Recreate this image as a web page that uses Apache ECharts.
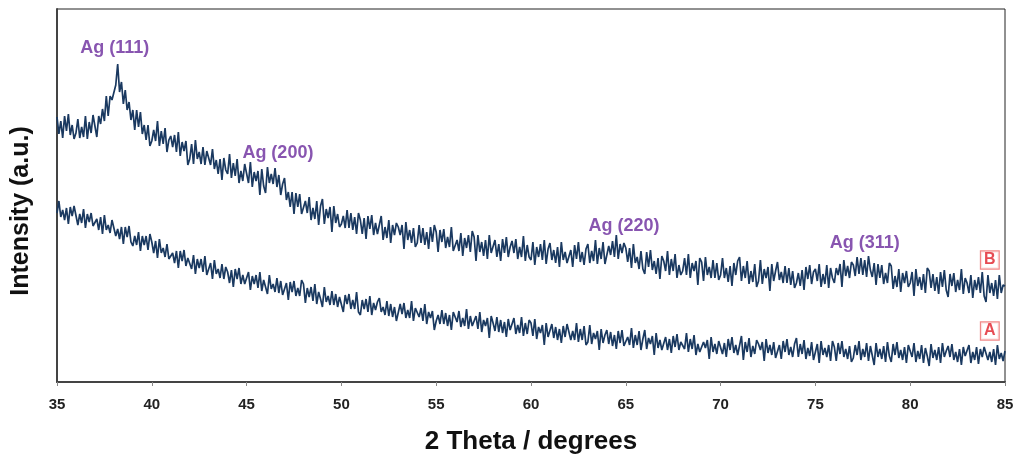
<!DOCTYPE html>
<html>
<head>
<meta charset="utf-8">
<script src="https://cdn.jsdelivr.net/npm/echarts@6/dist/echarts.min.js"></script>
<style>
  html, body { margin: 0; padding: 0; background: #fff; }
  #chart { width: 1024px; height: 468px; }
</style>
</head>
<body>
<div id="chart"></div>
<script>
// 2 theta grid: 35.0 .. 85.0, step 0.1 (one row = one degree)
var thetaStart = 35, thetaStep = 0.1;

// sample B (Ag nanoparticles), intensity a.u.
var intensityB = [
  265,248,261,244,266,251,268,247,257,243,
  249,263,244,255,245,266,243,260,249,267,
  266,245,266,258,273,261,286,266,286,282,
  284,297,318,290,300,278,292,272,280,262,
  272,252,272,255,270,248,257,242,257,236,
  241,252,241,261,236,251,238,254,230,242,
  246,235,247,230,250,226,240,231,241,217,
  223,238,218,242,223,230,218,235,217,231,
  232,217,233,213,222,208,223,202,224,212,
  208,228,204,219,206,223,199,211,201,218,
  216,199,220,195,210,201,211,187,213,196,
  189,215,199,208,198,214,195,207,187,198,
  204,182,190,175,190,168,189,175,188,168,
  166,181,169,185,162,174,163,181,157,176,
  183,158,173,164,175,150,176,159,168,155,
  158,166,154,172,154,169,152,165,148,169,
  162,148,164,143,166,153,167,147,159,148,
  149,166,142,155,144,162,139,157,147,159,
  155,147,157,133,160,142,152,139,154,135,
  139,157,139,154,137,150,133,155,140,157,
  150,130,152,140,153,134,145,135,155,131,
  129,142,131,149,126,144,134,147,130,151,
  145,121,147,130,140,126,142,123,147,129,
  127,142,125,138,121,143,129,145,125,135,
  141,129,143,123,135,125,146,121,137,125,
  122,140,117,135,125,138,122,142,118,133,
  139,122,132,119,135,115,140,122,130,119,
  118,132,115,137,123,140,120,130,117,133,
  138,119,131,121,142,118,134,123,140,118,
  116,136,127,141,125,147,123,138,129,139,
  134,120,134,114,138,119,125,113,131,113,
  108,130,115,132,112,121,108,124,103,126,
  121,111,131,107,123,111,128,104,117,107,
  111,124,107,128,104,119,111,121, 97,124,
  120,101,125,107,115,104,122,104,119,102,
  107,124,104,114,100,116, 96,119,107,121,
  125,101,116,104,121, 98,111,100,118, 95,
  101,122, 98,113,104,115, 91,118,101,111,
  120,102,110, 99,116, 99,114, 97,111, 94,
   99,109, 96,112, 92,115,103,117, 98,110,
  113,101,118, 95,108, 98,117, 94,114,104,
   99,114,107,118, 95,122,106,116,104,120,
  117,106,125,108,124,107,122,105,126,112,
  105,119, 97,118,104,117, 98,109, 99,119,
  116, 93,106, 95,113, 90,109, 99,111, 95,
   99,110, 86,113, 96,105, 92,108, 89,114,
  111, 94,108, 91,105, 88,110, 95,112, 92,
   85,108, 96,109, 90,102, 92,113, 88,104,
   99, 89,107, 84,102, 92,105, 89,110, 86,
   80,107, 89, 99, 86,102, 83,107, 89, 97,
   96
];

// sample A (blank), intensity a.u.
var intensityA = [
  169,181,165,172,162,174,158,175,166,176,
  177,157,168,159,173,154,168,160,169,156,
  156,163,152,165,148,167,152,157,149,162,
  163,146,153,143,155,138,155,145,156,140,
  136,146,137,150,131,146,137,146,132,148,
  140,129,141,124,143,129,134,125,138,123,
  122,129,119,131,114,131,121,132,116,124,
  122,113,127,108,123,114,123,110,126,107,
  107,119,103,122,108,113,104,118,103,115,
  110, 99,112, 95,113,103,114, 98,107, 98,
   97,110, 92,106, 98,107, 94,110, 91,102,
  104, 88,107, 93, 98, 90,104, 89,101, 87,
   86, 99, 82,100, 90,101, 86, 94, 86,102,
   98, 79, 94, 85, 95, 81, 98, 78, 90, 83,
   75, 95, 80, 86, 77, 91, 77, 88, 75, 85,
   86, 70, 87, 78, 88, 73, 82, 73, 90, 70,
   67, 82, 73, 83, 70, 86, 67, 79, 72, 80,
   84, 70, 75, 67, 81, 66, 78, 65, 75, 61,
   60, 78, 68, 79, 64, 72, 64, 81, 61, 74,
   73, 65, 74, 61, 78, 58, 70, 64, 71, 52,
   61, 67, 58, 72, 58, 69, 56, 67, 52, 70,
   69, 60, 71, 55, 64, 56, 73, 53, 66, 56,
   57, 66, 53, 70, 50, 62, 56, 64, 44, 66,
   59, 51, 65, 50, 62, 49, 60, 45, 63, 52,
   53, 64, 48, 57, 49, 65, 46, 59, 48, 62,
   59, 46, 63, 43, 55, 49, 57, 37, 59, 45,
   44, 58, 44, 55, 42, 53, 39, 56, 45, 58,
   57, 42, 51, 42, 59, 40, 53, 42, 56, 37,
   40, 57, 38, 49, 43, 51, 32, 53, 39, 47,
   52, 38, 50, 36, 47, 33, 51, 39, 52, 36,
   36, 45, 37, 54, 34, 47, 37, 51, 32, 43,
   52, 33, 44, 38, 46, 27, 49, 34, 42, 32,
   33, 45, 32, 43, 29, 46, 35, 48, 32, 40,
   41, 33, 49, 30, 43, 33, 47, 27, 38, 30,
   28, 40, 34, 42, 23, 45, 30, 38, 28, 41,
   41, 28, 39, 25, 43, 32, 45, 29, 37, 27,
   29, 46, 22, 40, 30, 44, 25, 36, 28, 42,
   38, 32, 40, 21, 43, 29, 37, 27, 40, 24,
   26, 37, 23, 41, 30, 43, 27, 35, 25, 38,
   44, 25, 38, 28, 42, 23, 34, 26, 40, 22,
   30, 38, 19, 41, 27, 34, 25, 37, 21, 41,
   35, 21, 39, 28, 41, 25, 33, 23, 36, 20,
   24, 37, 27, 41, 22, 33, 25, 39, 21, 36,
   36, 17, 39, 25, 33, 23, 36, 20, 40, 26,
   20, 38, 27, 40, 24, 32, 22, 35, 19, 37,
   35, 25, 39, 20, 31, 23, 37, 19, 34, 26,
   16, 38, 24, 32, 22, 35, 19, 39, 25, 31,
   36, 25, 38, 22, 30, 20, 33, 17, 35, 26,
   24, 37, 19, 30, 22, 35, 18, 33, 25, 35,
   36, 22, 30, 20, 33, 17, 37, 23, 29, 21,
   31
];

// reflection labels [2theta, intensity, text]
var peakLabels = [
  [38.05, 334, 'Ag (111)'],
  [46.65, 229, 'Ag (200)'],
  [64.9, 156, 'Ag (220)'],
  [77.6, 139, 'Ag (311)']
];

// sample tags [2theta, intensity, text]
var sampleTags = [
  [84.2, 122, 'B'],
  [84.2, 51, 'A']
];

var xTicks = [35, 40, 45, 50, 55, 60, 65, 70, 75, 80, 85];

function toPairs(arr) {
  return arr.map(function (v, i) {
    return [+(thetaStart + i * thetaStep).toFixed(1), v];
  });
}

var lineColor = '#1a3960';

var myChart = echarts.init(document.getElementById('chart'));

option = {
    backgroundColor: '#fff',
    animation: false,
    textStyle: { fontFamily: 'Liberation Sans, Arial, sans-serif' },
    grid: {
        left: 57,
        right: 19,
        top: 9,
        bottom: 86,
        show: true,
        borderColor: '#222',
        borderWidth: 1
    },
    graphic: [
        {
            type: 'text',
            x: 21,
            y: 211,
            rotation: Math.PI / 2,
            style: {
                text: 'Intensity (a.u.)',
                fill: '#111',
                font: 'bold 25px "Liberation Sans", Arial, sans-serif',
                align: 'center',
                verticalAlign: 'middle'
            }
        }
    ],
    xAxis: {
        type: 'value',
        min: 35,
        max: 85,
        interval: 5,
        name: '2 Theta / degrees',
        nameLocation: 'middle',
        nameGap: 47,
        nameTextStyle: { fontSize: 26, fontWeight: 'bold', color: '#111' },
        axisLine: { lineStyle: { color: '#444', width: 2 } },
        axisTick: { show: true, length: 4, lineStyle: { color: '#888' } },
        axisLabel: {
            fontSize: 15,
            fontWeight: 'bold',
            color: '#222',
            margin: 15,
            formatter: function (v) { return xTicks.indexOf(v) >= 0 ? v : ''; }
        },
        splitLine: { show: false }
    },
    yAxis: {
        type: 'value',
        min: 0,
        max: 373,
        axisLine: { show: true, lineStyle: { color: '#444', width: 2 } },
        axisTick: { show: false },
        axisLabel: { show: false },
        splitLine: { show: false }
    },
    series: [
        {
            name: 'B',
            type: 'line',
            data: toPairs(intensityB),
            showSymbol: false,
            lineStyle: { color: lineColor, width: 1.7 },
            z: 3
        },
        {
            name: 'A',
            type: 'line',
            data: toPairs(intensityA),
            showSymbol: false,
            lineStyle: { color: lineColor, width: 1.7 },
            z: 3
        },
        {
            name: 'peaks',
            type: 'scatter',
            data: peakLabels.map(function (p) { return { value: [p[0], p[1]], name: p[2] }; }),
            symbolSize: 0,
            silent: true,
            label: {
                show: true,
                position: 'inside',
                formatter: '{b}',
                fontSize: 18,
                fontWeight: 'bold',
                color: '#6a2a9c'
            },
            z: 5
        },
        {
            name: 'tags',
            type: 'scatter',
            data: sampleTags.map(function (p) { return { value: [p[0], p[1]], name: p[2] }; }),
            symbolSize: 0,
            silent: true,
            label: {
                show: true,
                position: 'inside',
                formatter: '{b}',
                fontSize: 16,
                fontWeight: 'bold',
                color: '#e01e28',
                borderColor: '#ee6b6b',
                borderWidth: 1.2,
                backgroundColor: '#fff',
                padding: [1, 3, 0, 3]
            },
            z: 5
        }
    ]
};

myChart.setOption(option);
</script>
</body>
</html>
